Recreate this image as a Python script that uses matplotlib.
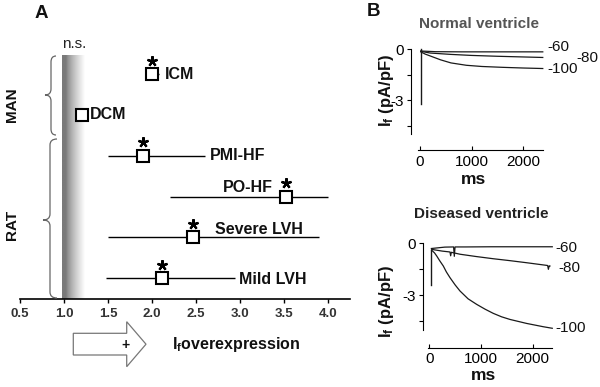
import numpy as np
import matplotlib
matplotlib.use('Agg')
import matplotlib.pyplot as plt
from matplotlib.path import Path
from matplotlib.patches import PathPatch, Polygon
from matplotlib.transforms import Affine2D

plt.rcParams['font.family'] = ['Liberation Sans', 'DejaVu Sans']
plt.rcParams['mathtext.fontset'] = 'custom'
plt.rcParams['mathtext.rm'] = 'Liberation Sans'
plt.rcParams['mathtext.bf'] = 'Liberation Sans:bold'
plt.rcParams['mathtext.it'] = 'Liberation Sans:italic'

# ---------------- Panel A data ----------------
groups = ['ICM', 'DCM', 'PMI-HF', 'PO-HF', 'Severe LVH', 'Mild LVH']
fold = [2.0, 1.2, 1.9, 3.52, 2.47, 2.11]
ci_low = [1.92, 1.2, 1.5, 2.2, 1.5, 1.48]
ci_high = [2.08, 1.2, 2.6, 4.0, 3.9, 2.94]
significant = [True, False, True, True, True, True]
species = ['MAN', 'RAT']
xticks_a = [0.5, 1.0, 1.5, 2.0, 2.5, 3.0, 3.5, 4.0]

# ---------------- Panel B data (ms, pA/pF) ----------------
voltages = ['-60', '-80', '-100']
normal_t60 = [15, 300, 800, 1400, 2000, 2380]
normal_i60 = [-0.10, -0.14, -0.15, -0.15, -0.15, -0.15]
normal_t80 = [15, 200, 600, 1000, 1500, 2000, 2380]
normal_i80 = [-0.12, -0.22, -0.30, -0.36, -0.41, -0.45, -0.48]
normal_t100 = [15, 100, 250, 400, 600, 900, 1200, 1600, 2000, 2380]
normal_i100 = [-0.15, -0.28, -0.45, -0.62, -0.80, -0.94, -1.01, -1.06, -1.10, -1.13]
normal_spike_t = [15, 15]
normal_spike_i = [0.0, -3.2]

diseased_t60 = [40, 300, 470, 484, 498, 700, 1200, 1800, 2380]
diseased_i60 = [-0.30, -0.22, -0.21, -0.75, -0.21, -0.21, -0.20, -0.20, -0.20]
diseased_t80 = [46, 250, 400, 413, 426, 594, 900, 1238, 1560, 1883, 2290, 2305, 2320, 2335]
diseased_i80 = [-0.35, -0.45, -0.50, -0.72, -0.52, -0.63, -0.76, -0.89, -1.00, -1.12, -1.28, -1.50, -1.30, -1.31]
diseased_t100 = [46, 100, 143, 200, 271, 330, 400, 500, 594, 750, 916, 1080, 1238, 1400, 1561, 1883, 2205, 2380]
diseased_i100 = [-0.40, -0.55, -0.73, -1.00, -1.31, -1.65, -1.98, -2.40, -2.75, -3.20, -3.52, -3.80, -4.04, -4.24, -4.39, -4.62, -4.81, -4.90]
diseased_spike_t = [27, 27]
diseased_spike_i = [-0.4, -2.4]

W, H = 600, 387
fig = plt.figure(figsize=(6, 3.87), dpi=100)
PX = Affine2D().scale(1 / W, -1 / H).translate(0, 1) + fig.transFigure


def ftext(x, y, s, **kw):
    fig.text(x / W, 1 - y / H, s, **kw)


# ---------------- Panel A ----------------
axA = fig.add_axes([20 / W, (H - 298.7) / H, 330 / W, (298.7 - 39.3) / H])
axA.set_xlim(0.5, 4.25)
axA.set_ylim(5.5, -0.85)
rows = np.arange(len(groups))

# gradient band (n.s. region)
s = np.linspace(0, 1, 200)
grad = np.where(s < 0.18, 0.48, 0.48 + 0.52 * ((s - 0.18) / 0.82) ** 0.75)
axA.imshow(grad[np.newaxis, :], extent=[0.975, 1.23, 5.5, -0.465], aspect='auto',
           cmap='gray', vmin=0, vmax=1, zorder=0, interpolation='bilinear')

axA.hlines(rows, ci_low, ci_high, color='black', lw=1.0, zorder=2)
axA.plot(fold, rows, 's', ms=8.9, mfc='white', mec='black', mew=1.5, ls='none', zorder=3)
fold_arr = np.array(fold)
sig = np.array(significant)
axA.plot(fold_arr[sig], rows[sig] - 0.33, ls='none', marker=(5, 2, 0), ms=7.5, mew=1.6,
         color='black', zorder=3)

label_offsets = {  # (anchor, dx px, dy px, ha)
    'ICM': ('pt', 12.5, 0, 'left'),
    'DCM': ('pt', 8.7, 0, 'left'),
    'PMI-HF': ('hi', 5, 0, 'left'),
    'PO-HF': ('pt', -13, 9.4, 'right'),
    'Severe LVH': ('pt', 22, 8, 'left'),
    'Mild LVH': ('hi', 4.3, -1, 'left'),
}
for i, g in enumerate(groups):
    anchor, dx, dy, ha = label_offsets[g]
    xv = fold[i] if anchor == 'pt' else ci_high[i]
    axA.annotate(g, (xv, rows[i]), xytext=(dx, dy), textcoords='offset pixels',
                 ha=ha, va='center', fontsize=11.5, fontweight='bold', color='#111')

for sp in ['top', 'right', 'left']:
    axA.spines[sp].set_visible(False)
axA.spines['bottom'].set_linewidth(1.2)
axA.set_yticks([])
axA.set_xticks(xticks_a)
axA.set_xticklabels([f'{v:.1f}' for v in xticks_a])
axA.tick_params(axis='x', direction='out', length=3, width=1, pad=4, labelsize=9.5,
                labelcolor='#333')
for lab in axA.get_xticklabels():
    lab.set_fontweight('bold')
axA.patch.set_alpha(0)


def brace(x_end, x_mid, x_tip, y_top, y_bot, y_tip, r=6):
    verts = [(x_end, y_top), (x_mid, y_top), (x_mid, y_top + r),
             (x_mid, y_tip - r), (x_mid, y_tip), (x_tip, y_tip),
             (x_mid, y_tip), (x_mid, y_tip + r),
             (x_mid, y_bot - r), (x_mid, y_bot), (x_end, y_bot)]
    codes = [Path.MOVETO, Path.CURVE3, Path.CURVE3,
             Path.LINETO, Path.CURVE3, Path.CURVE3,
             Path.CURVE3, Path.CURVE3,
             Path.LINETO, Path.CURVE3, Path.CURVE3]
    fig.add_artist(PathPatch(Path(verts, codes), transform=PX, fill=False,
                             ec='#666', lw=0.9))


brace(56, 51, 45, 56, 135, 95)
brace(57, 50, 43, 139, 298, 220)
ftext(12, 105, species[0], rotation=90, ha='center', va='center', fontsize=11,
      fontweight='bold', color='#111')
ftext(12, 225, species[1], rotation=90, ha='center', va='center', fontsize=11,
      fontweight='bold', color='#111')
ftext(74, 44, 'n.s.', ha='center', va='center', fontsize=11, color='#222')
ftext(41.7, 13.3, 'A', ha='center', va='center', fontsize=13.5, fontweight='bold', color='#111')

# outline arrow
arrow = Polygon([(73.3, 333.3), (126.7, 333.3), (126.7, 321.7), (146, 344.2),
                 (126.7, 366.7), (126.7, 355), (73.3, 355)], closed=True,
                transform=PX, fc='white', ec='#777', lw=0.9)
fig.add_artist(arrow)
ftext(125, 345, '+', ha='center', va='center', fontsize=10, fontweight='bold', color='#111')
ftext(171.7, 344, r'$\mathbf{I}_{\mathbf{f}}$overexpression', ha='left', va='center',
      fontsize=11.5, fontweight='bold', color='#111')

# ---------------- Panel B ----------------
def trace_panel(rect, xlim, ylim, traces, spike, label_offs):
    ax = fig.add_axes(rect)
    ax.set_xlim(*xlim)
    ax.set_ylim(*ylim)
    for (t, i), v, off in zip(traces, voltages, label_offs):
        ax.plot(t, i, color='#1a1a1a', lw=0.9)
        ax.annotate(v, (t[-1], i[-1]), xytext=off, textcoords='offset pixels',
                    ha='left', va='center', fontsize=11, color='#111')
    ax.plot(spike[0], spike[1], color='#1a1a1a', lw=1.0)
    for sp in ['top', 'right']:
        ax.spines[sp].set_visible(False)
    ax.spines['left'].set_bounds(-5.0, 0.0)
    ax.spines['bottom'].set_bounds(-30, 2380)
    for sp in ['left', 'bottom']:
        ax.spines[sp].set_linewidth(0.8)
    ax.set_yticks([0, -1.5, -3, -4.5])
    ax.set_yticklabels(['0', '', '-3', ''])
    ax.set_xticks([0, 1000, 2000])
    ax.set_xticklabels(['0', '1000', '2000'])
    ax.tick_params(axis='y', direction='out', length=3, width=0.8, pad=2, labelsize=11)
    ax.tick_params(axis='x', direction='in', length=3, width=0.8, pad=3, labelsize=11)
    ax.patch.set_alpha(0)
    return ax


trace_panel([411 / W, (H - 150.5) / H, 132.8 / W, 103.75 / H], (-174, 2400), (-5.95, 0.15),
            [(normal_t60, normal_i60), (normal_t80, normal_i80), (normal_t100, normal_i100)],
            (normal_spike_t, normal_spike_i), [(5, 5), (34, -1), (5, 0)])
trace_panel([422.7 / W, (H - 347.7) / H, 130.6 / W, 107 / H], (-128, 2400), (-6.02, 0.15),
            [(diseased_t60, diseased_i60), (diseased_t80, diseased_i80), (diseased_t100, diseased_i100)],
            (diseased_spike_t, diseased_spike_i), [(3, -1), (8, -2), (3, 0)])

ftext(373, 12, 'B', ha='center', va='center', fontsize=13.5, fontweight='bold', color='#111')
ftext(478.8, 23.8, 'Normal ventricle', ha='center', va='center', fontsize=11,
      fontweight='bold', color='#555')
ftext(480.8, 214.5, 'Diseased ventricle', ha='center', va='center', fontsize=11,
      fontweight='bold', color='#222')
ftext(474, 179, 'ms', ha='center', va='center', fontsize=12.5, fontweight='bold', color='#111')
ftext(483, 376, 'ms', ha='center', va='center', fontsize=12.5, fontweight='bold', color='#111')
ylab = r'$\mathbf{I}_{\mathbf{f}}$ (pA/pF)'
ftext(386.5, 90, ylab, rotation=90, ha='center', va='center', fontsize=12,
      fontweight='bold', color='#111')
ftext(386.0, 301.7, ylab, rotation=90, ha='center', va='center', fontsize=12,
      fontweight='bold', color='#111')

fig.savefig('out.png', dpi=100)
